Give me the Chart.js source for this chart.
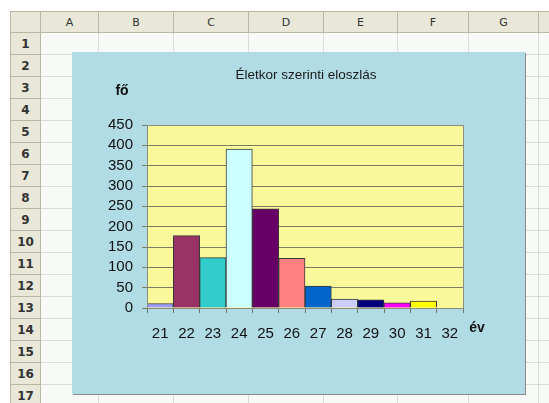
<!DOCTYPE html>
<html>
<head>
<meta charset="utf-8">
<script src="https://cdn.jsdelivr.net/npm/chart.js@4/dist/chart.umd.min.js"></script>
<style>
  body { margin: 0; background: #fff; width: 549px; height: 403px; overflow: hidden; position: relative; font-family: "Liberation Sans", Arial, sans-serif; }
  .cell { position: absolute; box-sizing: border-box; background: #f7faf7; border-right: 1px solid #d9ddd8; border-bottom: 1px solid #d9ddd8; }
  .hdr { position: absolute; box-sizing: border-box; background: #e8e7d8; border-right: 1px solid #b8b7a6; border-bottom: 1px solid #b8b7a6;
         color: #333; font-family: "DejaVu Sans", sans-serif; font-size: 11px; text-align: center; }
  #chartBox { position: absolute; left: 72px; top: 52px; width: 453px; height: 342px; box-sizing: border-box;
              border: 1px solid #5c6266; box-shadow: 1px 1px 0 #8a8a8a; background: #b1dce6; }
  #chartBox canvas { position: absolute; left: -1px; top: -1px; }
</style>
</head>
<body>
<div id="sheet"></div>
<div id="chartBox"><canvas id="chart" width="453" height="342"></canvas></div>
<script>
// chart data
const ages = ['21', '22', '23', '24', '25', '26', '27', '28', '29', '30', '31', '32'];
const people = [11, 178, 124, 391, 244, 122, 54, 22, 20, 13, 17, 0];
const barColors = ['#9999ff', '#993366', '#33cccc', '#ccffff', '#660066', '#ff8080',
                   '#0066cc', '#ccccff', '#000080', '#ff00ff', '#ffff00', '#00ffff'];
const chartTitle = 'Életkor szerinti eloszlás';
const yUnit = 'fő';
const xUnit = 'év';

// spreadsheet frame
const sheet = document.getElementById('sheet');
const colEdges = [41, 99, 174, 249, 324, 398, 469, 539, 610];
const colNames = ['A', 'B', 'C', 'D', 'E', 'F', 'G', ''];
const rowTop = 33, rowH = 22, nRows = 17;

function addDiv(cls, x, y, w, h, text) {
    const d = document.createElement('div');
    d.className = cls;
    d.style.left = x + 'px';
    d.style.top = y + 'px';
    d.style.width = w + 'px';
    d.style.height = h + 'px';
    if (text) {
        d.textContent = text;
        d.style.lineHeight = h + 'px';
    }
    sheet.appendChild(d);
    return d;
}

addDiv('hdr', 10, 11, 31, 22, '').style.borderLeft = '1px solid #b8b7a6';
sheet.lastChild.style.borderTop = '1px solid #b8b7a6';
for (let c = 0; c < colNames.length; c++) {
    const h = addDiv('hdr', colEdges[c], 11, colEdges[c + 1] - colEdges[c], 22, colNames[c]);
    h.style.borderTop = '1px solid #b8b7a6';
}
for (let r = 0; r < nRows; r++) {
    const y = rowTop + r * rowH;
    const h = addDiv('hdr', 10, y, 31, rowH, String(r + 1));
    h.style.borderLeft = '1px solid #b8b7a6';
    h.style.fontWeight = 'bold';
    h.style.fontSize = '12px';
    for (let c = 0; c < colNames.length; c++) {
        addDiv('cell', colEdges[c], y, colEdges[c + 1] - colEdges[c], rowH, '');
    }
}

// plot background, border and free texts
const decorPlugin = {
    id: 'decor',
    beforeDraw(chart) {
        const { ctx, chartArea: a } = chart;
        ctx.save();
        ctx.fillStyle = '#b1dce6';
        ctx.fillRect(0, 0, chart.width, chart.height);
        ctx.fillStyle = '#f9f99b';
        ctx.fillRect(a.left, a.top, a.right - a.left, a.bottom - a.top);
        ctx.restore();
    },
    afterDraw(chart) {
        const { ctx, chartArea: a } = chart;
        ctx.save();
        ctx.strokeStyle = '#8c8c80';
        ctx.lineWidth = 1;
        ctx.strokeRect(a.left + 0.5, a.top + 0.5, a.right - a.left, a.bottom - a.top);
        ctx.fillStyle = '#1a1a1a';
        ctx.textAlign = 'center';
        ctx.textBaseline = 'middle';
        ctx.font = '13.5px "Liberation Sans", Arial, sans-serif';
        ctx.fillText(chartTitle, 234, 23);
        ctx.fillStyle = '#111';
        ctx.font = 'bold 14px "Liberation Sans", Arial, sans-serif';
        ctx.fillText(yUnit, 50, 39);
        ctx.fillText(xUnit, 405, 276);
        ctx.restore();
    }
};

new Chart(document.getElementById('chart'), {
    type: 'bar',
    data: {
        labels: ages,
        datasets: [{
            data: people,
            backgroundColor: barColors,
            borderColor: '#3a3a3a',
            borderWidth: 1,
            barPercentage: 1,
            categoryPercentage: 1
        }]
    },
    options: {
        responsive: false,
        animation: false,
        layout: { padding: { left: 0, top: 73, right: 62, bottom: 0 } },
        plugins: { legend: { display: false }, tooltip: { enabled: false }, title: { display: false } },
        scales: {
            x: {
                grid: { offset: true, drawOnChartArea: false, color: '#707070', tickLength: 5 },
                border: { color: '#8c8c80' },
                ticks: { autoSkip: false, maxRotation: 0, color: '#111', padding: 12, font: { size: 15, family: '"Liberation Sans", Arial, sans-serif' } },
                afterFit(scale) { scale.height = 86; }
            },
            y: {
                min: 0,
                max: 450,
                ticks: { autoSkip: false, stepSize: 50, color: '#111', padding: 9, font: { size: 15, family: '"Liberation Sans", Arial, sans-serif' } },
                grid: { color: '#7c7c64', tickLength: 5 },
                border: { color: '#8c8c80' },
                afterFit(scale) { scale.width = 75; }
            }
        }
    },
    plugins: [decorPlugin]
});
</script>
</body>
</html>
